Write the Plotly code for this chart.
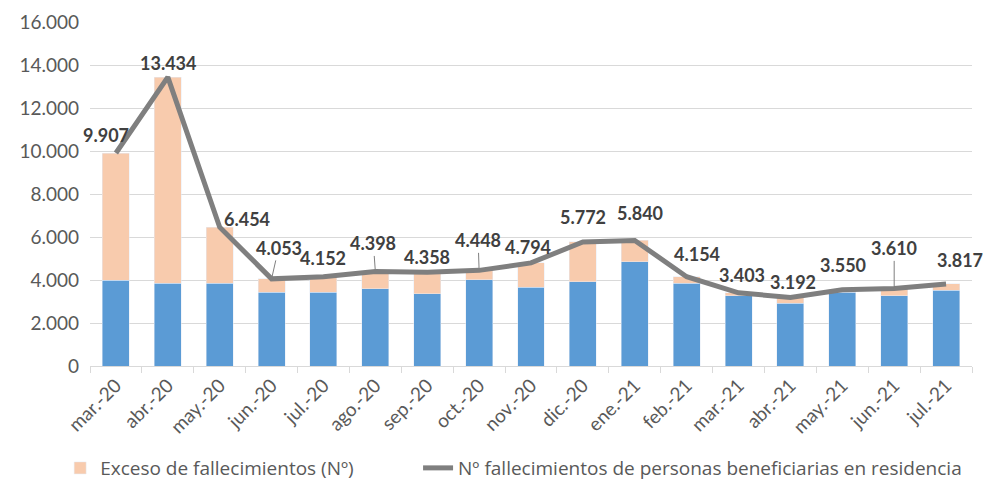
import plotly.graph_objects as go

categories = ["mar.-20", "abr.-20", "may.-20", "jun.-20", "jul.-20", "ago.-20", "sep.-20",
              "oct.-20", "nov.-20", "dic.-20", "ene.-21", "feb.-21", "mar.-21", "abr.-21",
              "may.-21", "jun.-21", "jul.-21"]
base_deaths = [3990, 3840, 3840, 3430, 3430, 3600, 3350, 4010, 3670, 3920, 4850, 3840,
               3270, 2930, 3440, 3270, 3520]
excess_deaths = [5917, 9594, 2614, 623, 722, 798, 1008, 438, 1124, 1852, 990, 314,
                 133, 262, 110, 340, 297]
residence_deaths = [9907, 13434, 6454, 4053, 4152, 4398, 4358, 4448, 4794, 5772, 5840,
                    4154, 3403, 3192, 3550, 3610, 3817]
label_texts = ["9.907", "13.434", "6.454", "4.053", "4.152", "4.398", "4.358", "4.448",
               "4.794", "5.772", "5.840", "4.154", "3.403", "3.192", "3.550", "3.610", "3.817"]

# label placement (pixels offset from point) and leader lines
label_dx = [-10, 0, 27, 7, 0, -2, 0, -1, -3, 0, 5, 10, 3, 3, 1, 0, 14]
label_dy = [-18, -14, -8, -31, -19, -28, -15, -30, -16, -25, -27, -23, -18, -15, -25, -40, -24]
leader = [False, False, False, True, False, True, False, True, False, False, False, False,
          False, False, False, True, False]

FONT = "Lato, 'Open Sans', sans-serif"
LEGEND_FONT = dict(family="'Open Sans', sans-serif", size=19, color="#595959")

fig = go.Figure()
fig.add_trace(go.Bar(x=categories, y=base_deaths, marker_color="#5b9bd5", width=0.52,
                     showlegend=False, name="Base", hoverinfo="skip"))
fig.add_trace(go.Bar(x=categories, y=excess_deaths, marker_color="#f8cbad", width=0.52,
                     name="Exceso de fallecimientos (Nº)", legend="legend"))
fig.add_trace(go.Scatter(x=categories, y=residence_deaths, mode="lines",
                         line=dict(color="#7f7f7f", width=5), legend="legend2",
                         name="Nº fallecimientos de personas beneficiarias en residencia"))

for i, c in enumerate(categories):
    fig.add_annotation(
        x=c, y=residence_deaths[i], xref="x", yref="y",
        text="<b>" + label_texts[i] + "</b>",
        showarrow=True, ax=label_dx[i], ay=label_dy[i],
        arrowhead=0, arrowwidth=1,
        arrowcolor="#7f7f7f" if leader[i] else "rgba(0,0,0,0)",
        standoff=0,
        font=dict(family=FONT, size=18, color="#404040"),
    )

fig.update_layout(
    width=986, height=484,
    margin=dict(l=90, r=14, t=22, b=118, autoexpand=False),
    plot_bgcolor="white", paper_bgcolor="white",
    barmode="stack", separators=",.",
    font=dict(family=FONT, color="#595959"),
    legend=dict(orientation="h", xref="container", yref="container",
                x=0.061, xanchor="left", y=0.033, yanchor="middle", font=LEGEND_FONT),
    legend2=dict(orientation="h", xref="container", yref="container",
                 x=0.424, xanchor="left", y=0.033, yanchor="middle", font=LEGEND_FONT),
    xaxis=dict(showline=True, linecolor="#d9d9d9", linewidth=1, ticks="outside",
               tickson="boundaries", ticklen=6, tickcolor="#d9d9d9", tickangle=-45,
               automargin=False, range=[-0.5, len(categories) - 0.5],
               tickfont=dict(family=FONT, size=19, color="#595959"), showgrid=False),
    yaxis=dict(range=[0, 16000], dtick=2000, showgrid=True, gridcolor="#d9d9d9",
               gridwidth=1, tickformat=",d", zeroline=False, automargin=False,
               ticklabelstandoff=10,
               tickfont=dict(family=FONT, size=19, color="#595959")),
)

fig.write_html("out.html", config={"displayModeBar": False},
               post_script="document.body.style.margin='0';document.body.style.padding='0';")
